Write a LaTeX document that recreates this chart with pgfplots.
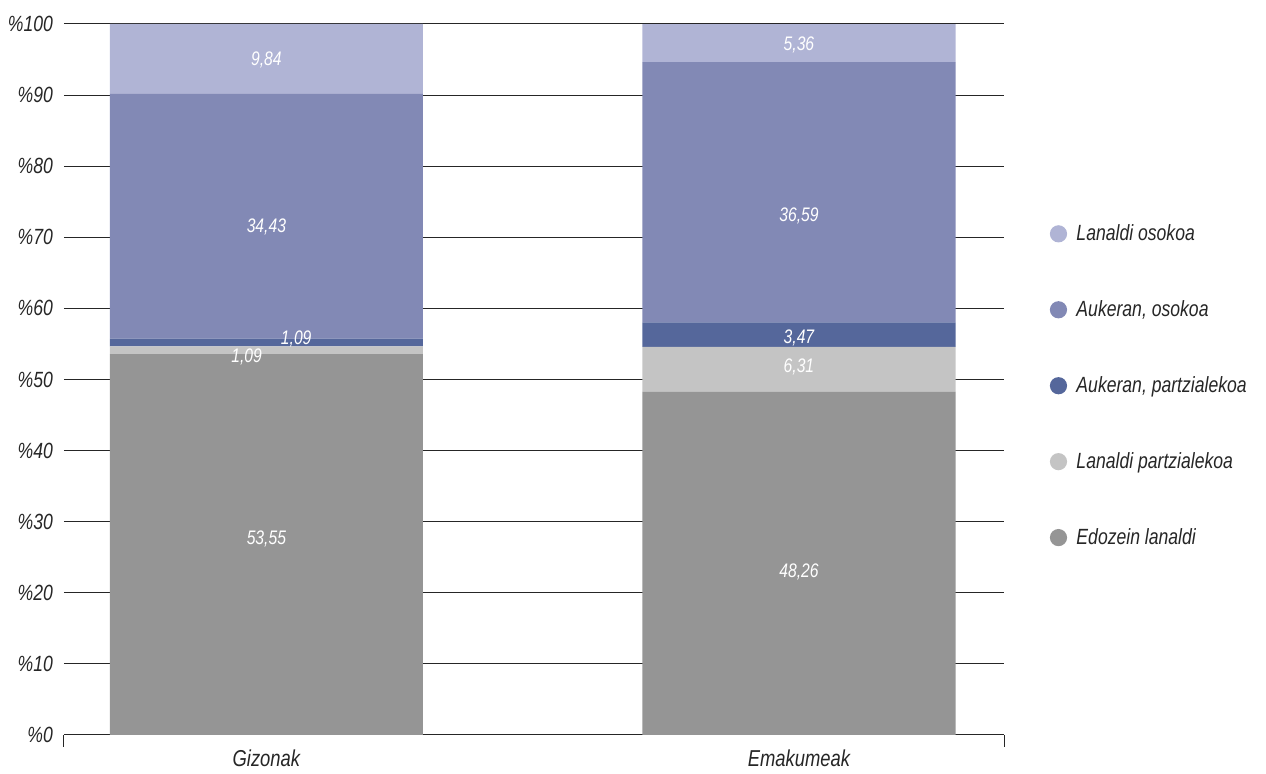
\documentclass[border=0pt]{standalone}
\usepackage{fontspec}
\setmainfont{Liberation Sans}[FakeStretch=0.8]
\usepackage{pgfplots}
\pgfplotsset{compat=1.18}
\definecolor{cEdo}{HTML}{959595}
\definecolor{cLp}{HTML}{C4C4C4}
\definecolor{cAp}{HTML}{55679B}
\definecolor{cAo}{HTML}{8289B5}
\definecolor{cLo}{HTML}{B0B4D5}
\begin{document}
\begin{tikzpicture}
\begin{axis}[
  scale only axis, width=470pt, height=355.5pt,
  ybar stacked, bar width=0.588,
  xmin=-0.380, xmax=1.385, ymin=0, ymax=100,
  xtick={0,1}, xticklabels={Gizonak,Emakumeak},
  xtick pos=bottom,
  major tick length=0pt,
  extra x ticks={-0.380,1.385}, extra x tick labels={},
  extra x tick style={grid=none, major tick length=6pt, tick align=outside, tick style={draw=black!85, line width=0.5pt}},
  ytick={0,10,...,100},
  yticklabels={\%0,\%10,\%20,\%30,\%40,\%50,\%60,\%70,\%80,\%90,\%100},
  ymajorgrids, grid style={black!85, line width=0.5pt},
  axis line style={draw=none},
  tick label style={font=\itshape\fontsize{11}{13}\selectfont, text=black!85},
  yticklabel style={xshift=-2pt},
  xticklabel style={yshift=-4pt, font=\itshape\fontsize{11.5}{13}\selectfont},
  legend style={at={(1.042,0.73)}, anchor=north west, draw=none, fill=none,
    font=\itshape\fontsize{11}{13}\selectfont, row sep=24.5pt, text=black!85},
  legend cell align=left,
  reverse legend,
  legend image code/.code={\fill[#1, draw=none] (0,0) circle (4.3pt); \path (7pt,0);},
]
\addplot[fill=cEdo, draw=none] coordinates {(0,53.55) (1,48.26)};
\addplot[fill=cLp, draw=none] coordinates {(0,1.09) (1,6.31)};
\addplot[fill=cAp, draw=none] coordinates {(0,1.09) (1,3.47)};
\addplot[fill=cAo, draw=none] coordinates {(0,34.43) (1,36.59)};
\addplot[fill=cLo, draw=none] coordinates {(0,9.84) (1,5.36)};
\legend{Edozein lanaldi, Lanaldi partzialekoa, {Aukeran, partzialekoa}, {Aukeran, osokoa}, Lanaldi osokoa}
\end{axis}
\begin{axis}[
  scale only axis, width=470pt, height=355.5pt,
  xmin=-0.380, xmax=1.385, ymin=0, ymax=100,
  hide axis,
]
\addplot[only marks, mark=*, mark size=0pt, mark options={draw=none, fill=none},
  nodes near coords, point meta=explicit symbolic, nodes near coords align={center},
  every node near coord/.append style={text=white, font=\itshape\fontsize{9.8}{11}\selectfont}]
  table[meta=label] {
x y label
0 94.9 9,84
0 71.4 34,43
0.056 55.7 1,09
-0.037 53.2 1,09
0 27.6 53,55
1 97.0 5,36
1 73.0 36,59
1 55.8 3,47
1 51.8 6,31
1 22.9 48,26
};
\end{axis}
\pgfresetboundingbox
\path (current axis.south west) ++(-32pt,-19.5pt) rectangle ++(633pt,387pt);
\end{tikzpicture}
\end{document}
